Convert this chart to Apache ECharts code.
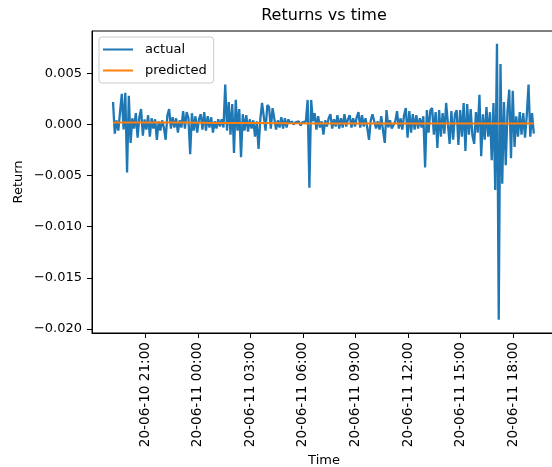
<!DOCTYPE html>
<html>
<head>
<meta charset="utf-8">
<script src="https://cdn.jsdelivr.net/npm/echarts@6/dist/echarts.min.js"></script>
<style>html,body{margin:0;padding:0;background:#fff}#c{width:552px;height:467px}</style>
</head>
<body>
<div id="c"></div>
<script>
// ---- data ----
const startTime = '2020-06-10 19:10';
const stepMinutes = 6;
const actualReturns = [
  0.0022,-0.0009,0.0004,-0.0006,0.0012,0.0030,-0.0005,0.0031,-0.0047,0.0028,
  -0.0018,0.0006,-0.0004,0.0011,-0.0013,0.0007,0.0015,-0.0011,0.0005,-0.0005,
  0.0009,-0.0012,0.0006,-0.0004,0.0005,-0.0015,0.0003,-0.0006,0.0004,-0.0003,
  -0.0015,0.0009,0.0015,-0.0004,0.0007,-0.0003,0.0006,-0.0008,0.0004,-0.0003,
  0.0013,-0.0004,0.0012,0.0006,-0.0029,0.0011,-0.0006,0.0008,-0.0008,0.0005,
  0.0010,-0.0005,0.0012,-0.0006,0.0008,-0.0003,0.0007,-0.0008,0.0003,-0.0004,
  0.0005,-0.0002,0.0005,-0.0003,0.0039,-0.0006,0.0022,-0.0010,0.0020,-0.0028,
  0.0024,-0.0006,0.0015,-0.0032,0.0010,-0.0006,0.0009,-0.0007,0.0005,-0.0004,
  0.0004,-0.0012,0.0003,-0.0024,0.0005,0.0021,0.0022,-0.0006,0.0019,0.0017,
  -0.0004,0.0016,0.0015,-0.0005,0.0004,-0.0003,0.0007,-0.0004,0.0006,-0.0003,
  0.0005,0.0001,0.0003,0.0000,0.0002,0.0001,0.0003,-0.0001,0.0002,0.0001,
  0.0003,0.0024,-0.0062,0.0024,0.0003,0.0011,-0.0005,0.0008,-0.0003,0.0003,
  -0.0010,0.0004,-0.0002,0.0006,0.0010,-0.0004,0.0005,-0.0002,0.0009,-0.0004,
  0.0006,-0.0003,0.0010,-0.0002,0.0005,0.0009,-0.0003,0.0006,-0.0002,0.0007,
  0.0012,-0.0003,0.0009,-0.0002,0.0006,-0.0003,-0.0015,0.0004,0.0010,0.0009,
  -0.0004,0.0003,-0.0005,0.0008,-0.0006,-0.0018,0.0014,-0.0003,0.0004,-0.0004,
  -0.0005,0.0003,0.0013,-0.0004,0.0006,-0.0005,0.0009,0.0016,-0.0013,0.0013,
  -0.0008,0.0010,-0.0005,0.0009,-0.0004,0.0006,-0.0003,0.0008,-0.0042,0.0014,
  -0.0008,0.0014,0.0016,-0.0010,0.0012,-0.0023,0.0014,-0.0012,0.0011,-0.0009,
  0.0021,0.0022,-0.0019,0.0013,-0.0015,0.0010,0.0014,-0.0020,0.0014,-0.0012,
  0.0021,-0.0026,0.0020,-0.0010,0.0015,-0.0011,-0.0019,0.0012,-0.0008,0.0029,
  -0.0031,0.0010,-0.0015,0.0017,-0.0012,0.0012,-0.0035,0.0021,-0.0064,0.0079,
  -0.0191,0.0059,-0.0058,0.0022,-0.0040,0.0013,0.0034,-0.0033,0.0033,-0.0022,
  0.0008,-0.0012,0.0012,-0.0010,0.0011,-0.0013,0.0009,0.0039,-0.0012,0.0011,
  -0.0009
];
const predictedStepMinutes = 120;
const predictedReturns = [0.0002,0.0002,0.0002,0.00015,0.00015,0.00012,0.0001,0.0001,0.0001,0.0001,0.0001,0.0001,0.0001];
const xTickLabels = ['2020-06-10 21:00','2020-06-11 00:00','2020-06-11 03:00','2020-06-11 06:00',
  '2020-06-11 09:00','2020-06-11 12:00','2020-06-11 15:00','2020-06-11 18:00'];
const yTickValues = [-0.02,-0.015,-0.01,-0.005,0,0.005];
const xRange = ['2020-06-10 17:58','2020-06-11 20:26'];
const yRange = [-0.0204, 0.00914];

// ---- build ----
function parseUTC(s){
  const [d,t] = s.split(' ');
  const [Y,M,D] = d.split('-').map(Number);
  const [h,m] = t.split(':').map(Number);
  return Date.UTC(Y,M-1,D,h,m);
}
const t0 = parseUTC(startTime);
const actualData = actualReturns.map((v,i)=>[t0 + i*stepMinutes*60000, v]);
const predictedData = predictedReturns.map((v,i)=>[t0 + i*predictedStepMinutes*60000, v]);
const xTicks = xTickLabels.map(parseUTC);
const pad = n => String(n).padStart(2,'0');
function fmtTime(v){
  const d = new Date(v);
  return String(d.getUTCFullYear()).slice(2)+'-'+pad(d.getUTCMonth()+1)+'-'+pad(d.getUTCDate())+' '+pad(d.getUTCHours())+':'+pad(d.getUTCMinutes());
}
function fmtY(v){
  const r = Math.round(v*1000)/1000;
  return (r<0?'\u2212':'') + Math.abs(r).toFixed(3);
}
const FONT = 'DejaVu Sans';
const chart = echarts.init(document.getElementById('c'), null, {renderer:'canvas'});
chart.setOption({
  animation:false,
  backgroundColor:'#fff',
  title:{
    text:'Returns vs time', left:324, top:8, textAlign:'center', padding:0,
    textStyle:{fontFamily:FONT,fontSize:16,fontWeight:'normal',color:'#000'}
  },
  legend:{
    orient:'vertical', left:99, top:37, padding:[6,7,6,4], itemGap:8,
    itemWidth:30, itemHeight:2, icon:'rect',
    backgroundColor:'rgba(255,255,255,0.8)', borderColor:'#cccccc', borderWidth:1, borderRadius:3,
    textStyle:{fontFamily:FONT,fontSize:13,color:'#000',padding:[0,0,0,7]},
    data:['actual','predicted']
  },
  grid:{left:92, top:31, right:-4, bottom:134, show:true, borderColor:'#000', borderWidth:1,
        backgroundColor:'transparent', outerBoundsMode:'none', containLabel:false},
  xAxis:{
    type:'value', min:parseUTC(xRange[0]), max:parseUTC(xRange[1]),
    name:'Time', nameLocation:'middle', nameGap:121, nameMoveOverlap:false,
    nameTextStyle:{fontFamily:FONT,fontSize:13,color:'#000'},
    axisLine:{show:true,onZero:false,lineStyle:{color:'#000',width:1}},
    axisTick:{show:true,length:5,lineStyle:{color:'#000',width:1},customValues:xTicks},
    axisLabel:{rotate:90,margin:9,fontFamily:FONT,fontSize:13.6,color:'#000',customValues:xTicks,formatter:fmtTime},
    splitLine:{show:false}
  },
  yAxis:{
    type:'value', min:yRange[0], max:yRange[1],
    name:'Return', nameLocation:'middle', nameGap:67, nameRotate:90, nameMoveOverlap:false,
    nameTextStyle:{fontFamily:FONT,fontSize:13,color:'#000'},
    axisLine:{show:true,onZero:false,lineStyle:{color:'#000',width:1}},
    axisTick:{show:true,length:5,lineStyle:{color:'#000',width:1},customValues:yTickValues},
    axisLabel:{margin:10,fontFamily:FONT,fontSize:13,color:'#000',customValues:yTickValues,formatter:fmtY},
    splitLine:{show:false}
  },
  series:[
    {name:'actual', type:'line', data:actualData, showSymbol:false, symbol:'none',
     lineStyle:{color:'#1f77b4',width:2.3}, itemStyle:{color:'#1f77b4'}},
    {name:'predicted', type:'line', data:predictedData, showSymbol:false, symbol:'none',
     lineStyle:{color:'#ff7f0e',width:2}, itemStyle:{color:'#ff7f0e'}}
  ]
});
</script>
</body>
</html>
